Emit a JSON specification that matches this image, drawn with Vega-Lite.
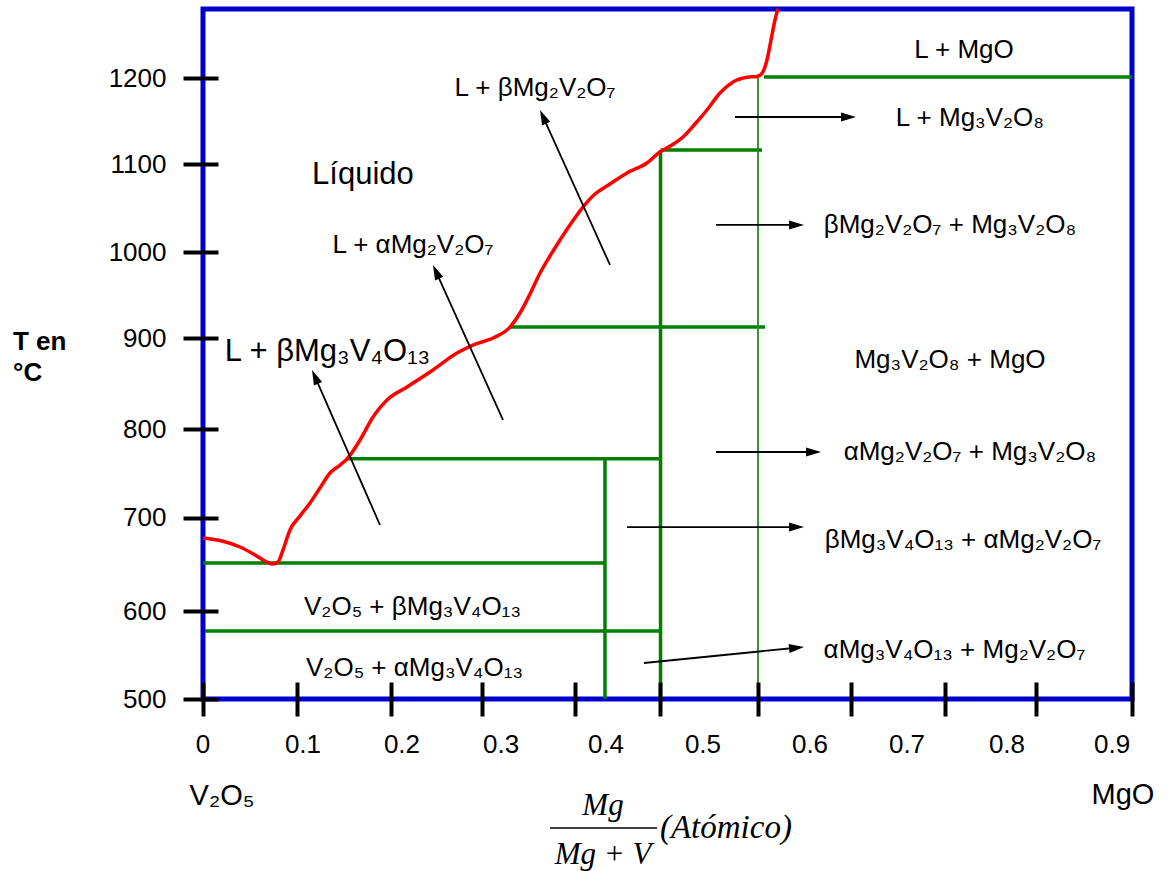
{
  "$schema": "https://vega.github.io/schema/vega-lite/v6.json",
  "width": 929,
  "height": 690,
  "autosize": {"type": "none"},
  "padding": {"left": 203, "top": 9, "right": 37, "bottom": 172},
  "background": "white",
  "config": {
    "view": {"stroke": "#0000CC", "strokeWidth": 5},
    "font": "Liberation Sans",
    "text": {"font": "Liberation Sans", "color": "black"}
  },
  "datasets": {
    "liquidus": [
      {"x": 0, "y": 681.5}, {"x": 0.0205, "y": 678.1}, {"x": 0.0398, "y": 671.4}, {"x": 0.056, "y": 662.4},
      {"x": 0.0667, "y": 655.6}, {"x": 0.0743, "y": 652.2}, {"x": 0.0807, "y": 654.5}, {"x": 0.0861, "y": 668.0},
      {"x": 0.0936, "y": 690.6}, {"x": 0.1044, "y": 706.3}, {"x": 0.1152, "y": 721.0}, {"x": 0.1259, "y": 737.9},
      {"x": 0.1367, "y": 754.8}, {"x": 0.1475, "y": 763.8}, {"x": 0.155, "y": 770.6}, {"x": 0.169, "y": 792.0},
      {"x": 0.183, "y": 818.0}, {"x": 0.198, "y": 837.1}, {"x": 0.2196, "y": 851.8}, {"x": 0.2476, "y": 871.0},
      {"x": 0.2734, "y": 890.1}, {"x": 0.2906, "y": 899.1}, {"x": 0.3122, "y": 907.0}, {"x": 0.3305, "y": 919.4},
      {"x": 0.3412, "y": 935.2}, {"x": 0.352, "y": 956.6}, {"x": 0.3628, "y": 980.3}, {"x": 0.3735, "y": 999.5},
      {"x": 0.3843, "y": 1017.5}, {"x": 0.3972, "y": 1037.8}, {"x": 0.409, "y": 1054.7}, {"x": 0.422, "y": 1069.4},
      {"x": 0.4381, "y": 1080.7}, {"x": 0.4564, "y": 1093.1}, {"x": 0.4779, "y": 1104.4}, {"x": 0.4919, "y": 1116.8},
      {"x": 0.5048, "y": 1124.6}, {"x": 0.5167, "y": 1133.7}, {"x": 0.5296, "y": 1148.3}, {"x": 0.5425, "y": 1164.1},
      {"x": 0.5565, "y": 1183.3}, {"x": 0.5705, "y": 1195.7}, {"x": 0.5856, "y": 1201.0}, {"x": 0.5963, "y": 1202.0},
      {"x": 0.6017, "y": 1205.5}, {"x": 0.6071, "y": 1220.5}, {"x": 0.6114, "y": 1243.0}, {"x": 0.6157, "y": 1265.6},
      {"x": 0.6187, "y": 1278}
    ],
    "boundaries": [
      {"x": 0, "y": 653.3, "x2": 0.4327, "y2": 653.3},
      {"x": 0.0022, "y": 576.7, "x2": 0.4925, "y2": 576.7},
      {"x": 0.155, "y": 771, "x2": 0.4925, "y2": 771},
      {"x": 0.3305, "y": 919.4, "x2": 0.605, "y2": 919.4},
      {"x": 0.4925, "y": 1119, "x2": 0.6017, "y2": 1119},
      {"x": 0.6039, "y": 1201.3, "x2": 1, "y2": 1201.3},
      {"x": 0.4327, "y": 771, "x2": 0.4327, "y2": 500},
      {"x": 0.4925, "y": 1119, "x2": 0.4925, "y2": 500}
    ],
    "thinBoundary": [
      {"x": 0.5974, "y": 1201.3, "x2": 0.5974, "y2": 500}
    ],
    "arrows": [
      {"x": 0.4381, "y": 989.4, "x2": 0.3661, "y2": 1156.4, "dir": -24.3},
      {"x": 0.3229, "y": 814.6, "x2": 0.2509, "y2": 981.7, "dir": -24.3},
      {"x": 0.1905, "y": 696.2, "x2": 0.1206, "y2": 863.2, "dir": -23.7},
      {"x": 0.5727, "y": 1156.2, "x2": 0.6948, "y2": 1156.2, "dir": 90},
      {"x": 0.5522, "y": 1034.5, "x2": 0.6389, "y2": 1034.5, "dir": 90},
      {"x": 0.5522, "y": 778.5, "x2": 0.6572, "y2": 778.5, "dir": 90},
      {"x": 0.4564, "y": 693.9, "x2": 0.6389, "y2": 693.9, "dir": 90},
      {"x": 0.4747, "y": 540.6, "x2": 0.6389, "y2": 557.8, "dir": 84.3}
    ],
    "regions": [
      {"x": 0.3574, "y": 1188.9, "t": "L + βMg₂V₂O₇"},
      {"x": 0.226, "y": 1011.9, "t": "L + αMg₂V₂O₇"},
      {"x": 0.8192, "y": 1231.8, "t": "L + MgO"},
      {"x": 0.8256, "y": 1155.1, "t": "L + Mg₃V₂O₈"},
      {"x": 0.8041, "y": 1034.5, "t": "βMg₂V₂O₇ + Mg₃V₂O₈"},
      {"x": 0.8041, "y": 882.2, "t": "Mg₃V₂O₈ + MgO"},
      {"x": 0.8256, "y": 778.5, "t": "αMg₂V₂O₇ + Mg₃V₂O₈"},
      {"x": 0.8181, "y": 679.3, "t": "βMg₃V₄O₁₃ + αMg₂V₂O₇"},
      {"x": 0.8089, "y": 555.2, "t": "αMg₃V₄O₁₃ + Mg₂V₂O₇"},
      {"x": 0.2255, "y": 603.7, "t": "V₂O₅ + βMg₃V₄O₁₃"},
      {"x": 0.2277, "y": 535, "t": "V₂O₅ + αMg₃V₄O₁₃"}
    ],
    "bigRegions": [
      {"x": 0.1722, "y": 1090.8, "t": "Líquido"},
      {"x": 0.134, "y": 891.3, "t": "L + βMg₃V₄O₁₃"}
    ],
    "xLabels": [
      {"x": 0, "y": 448.1, "t": "0"},
      {"x": 0.1076, "y": 448.1, "t": "0.1"},
      {"x": 0.2142, "y": 448.1, "t": "0.2"},
      {"x": 0.3208, "y": 448.1, "t": "0.3"},
      {"x": 0.4338, "y": 448.1, "t": "0.4"},
      {"x": 0.5382, "y": 448.1, "t": "0.5"},
      {"x": 0.6534, "y": 448.1, "t": "0.6"},
      {"x": 0.7578, "y": 448.1, "t": "0.7"},
      {"x": 0.8654, "y": 448.1, "t": "0.8"},
      {"x": 0.9785, "y": 448.1, "t": "0.9"}
    ],
    "ends": [
      {"x": 0.0205, "y": 390.6, "t": "V₂O₅"},
      {"x": 0.9903, "y": 391.8, "t": "MgO"}
    ],
    "yTitle": [
      {"x": -0.2045, "y": 902.5, "t": "T en"},
      {"x": -0.2045, "y": 867.6, "t": "°C"}
    ],
    "fraction": [
      {"x": 0.4306, "y": 379.4, "t": "Mg"},
      {"x": 0.4306, "y": 324.1, "t": "Mg + V"}
    ],
    "fractionBar": [
      {"x": 0.3735, "y": 354.5, "x2": 0.4887, "y2": 354.5}
    ],
    "unit": [
      {"x": 0.4919, "y": 354.5, "t": "(Atómico)"}
    ]
  },
  "encoding": {
    "x": {
      "field": "x", "type": "quantitative",
      "scale": {"domain": [0, 1], "nice": false, "zero": false},
      "axis": {
        "values": [0, 0.1012, 0.2024, 0.3003, 0.4004, 0.4919, 0.5974, 0.6975, 0.7987, 0.8967, 1.0],
        "labels": false, "domain": false, "grid": false, "title": null,
        "ticks": true, "tickSize": 34, "tickWidth": 4, "tickColor": "black", "offset": -17, "zindex": 1
      }
    },
    "y": {
      "field": "y", "type": "quantitative",
      "scale": {"domain": [500, 1278], "nice": false, "zero": false},
      "axis": {
        "values": [500, 599.2, 704.1, 804.4, 907.0, 1004.0, 1103.2, 1200.2],
        "labelExpr": "format(round(datum.value/100)*100, 'd')",
        "domain": false, "grid": false, "title": null,
        "tickSize": 35, "tickWidth": 4, "tickColor": "black", "offset": -15,
        "labelPadding": 17, "labelFontSize": 26, "labelFont": "Liberation Sans", "labelColor": "black"
      }
    }
  },
  "layer": [
    {
      "data": {"name": "boundaries"},
      "mark": {"type": "rule", "color": "#008000", "strokeWidth": 3.5},
      "encoding": {"x2": {"field": "x2"}, "y2": {"field": "y2"}}
    },
    {
      "data": {"name": "thinBoundary"},
      "mark": {"type": "rule", "color": "#1E8C1E", "strokeWidth": 1.8},
      "encoding": {"x2": {"field": "x2"}, "y2": {"field": "y2"}}
    },
    {
      "data": {"name": "liquidus"},
      "mark": {"type": "line", "color": "#FF0000", "strokeWidth": 3.5, "interpolate": "monotone"},
      "encoding": {}
    },
    {
      "data": {"name": "arrows"},
      "mark": {"type": "rule", "color": "black", "strokeWidth": 1.8},
      "encoding": {"x2": {"field": "x2"}, "y2": {"field": "y2"}}
    },
    {
      "data": {"name": "arrows"},
      "mark": {"type": "point", "shape": "M0,-1L0.6,1L-0.6,1Z", "filled": true, "color": "black", "opacity": 1, "size": 225},
      "encoding": {
        "x": {"field": "x2", "type": "quantitative"},
        "y": {"field": "y2", "type": "quantitative"},
        "angle": {"field": "dir", "type": "quantitative", "scale": null}
      }
    },
    {
      "data": {"name": "regions"},
      "mark": {"type": "text", "fontSize": 26, "align": "center", "baseline": "middle"},
      "encoding": {"text": {"field": "t"}}
    },
    {
      "data": {"name": "bigRegions"},
      "mark": {"type": "text", "fontSize": 31, "align": "center", "baseline": "middle"},
      "encoding": {"text": {"field": "t"}}
    },
    {
      "data": {"name": "xLabels"},
      "mark": {"type": "text", "fontSize": 26, "align": "center", "baseline": "middle"},
      "encoding": {"text": {"field": "t"}}
    },
    {
      "data": {"name": "ends"},
      "mark": {"type": "text", "fontSize": 29, "align": "center", "baseline": "middle"},
      "encoding": {"text": {"field": "t"}}
    },
    {
      "data": {"name": "yTitle"},
      "mark": {"type": "text", "fontSize": 26, "fontWeight": "bold", "align": "left", "baseline": "middle"},
      "encoding": {"text": {"field": "t"}}
    },
    {
      "data": {"name": "fraction"},
      "mark": {"type": "text", "font": "Liberation Serif", "fontStyle": "italic", "fontSize": 31, "align": "center", "baseline": "middle"},
      "encoding": {"text": {"field": "t"}}
    },
    {
      "data": {"name": "fractionBar"},
      "mark": {"type": "rule", "color": "black", "strokeWidth": 1.5},
      "encoding": {"x2": {"field": "x2"}, "y2": {"field": "y2"}}
    },
    {
      "data": {"name": "unit"},
      "mark": {"type": "text", "font": "Liberation Serif", "fontStyle": "italic", "fontSize": 33, "align": "left", "baseline": "middle"},
      "encoding": {"text": {"field": "t"}}
    }
  ]
}
